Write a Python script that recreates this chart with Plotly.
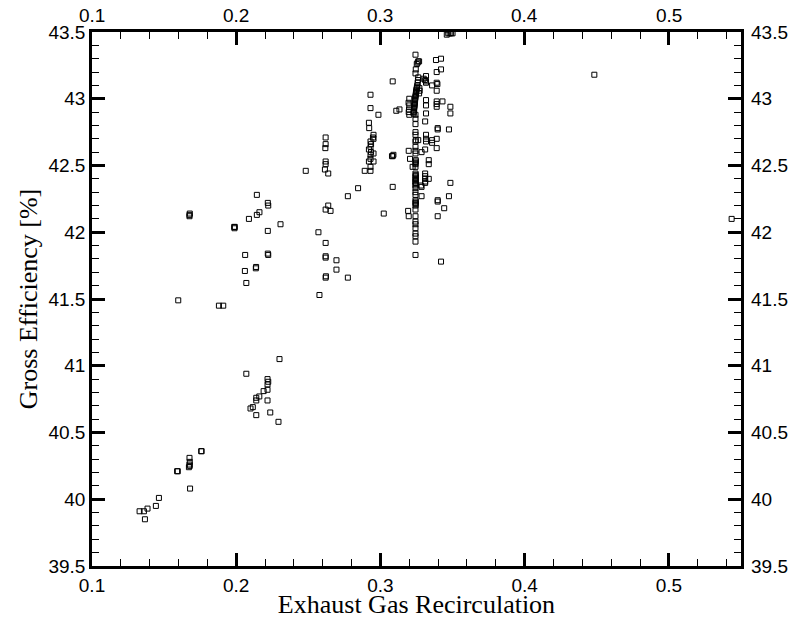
import plotly.graph_objects as go

# Exhaust gas recirculation fraction vs. gross efficiency, grouped by operating region
egr_low = [0.133, 0.136, 0.1367, 0.1385, 0.1443, 0.1464, 0.159, 0.1595, 0.168, 0.1676,
           0.1678, 0.1676, 0.1672, 0.1678, 0.1757, 0.176]
eff_low = [39.91, 39.91, 39.85, 39.93, 39.95, 40.01, 40.21, 40.21, 40.08, 40.31,
           40.28, 40.26, 40.24, 40.25, 40.36, 40.36]

egr_mid = [0.207, 0.2217, 0.2222, 0.2217, 0.2217, 0.219, 0.2139, 0.2139, 0.216, 0.2217,
           0.2115, 0.2099, 0.2139, 0.2236, 0.2293, 0.230,
           0.1598, 0.188, 0.191, 0.2577, 0.207]
eff_mid = [40.94, 40.90, 40.88, 40.86, 40.82, 40.81, 40.76, 40.74, 40.77, 40.74,
           40.69, 40.68, 40.63, 40.65, 40.58, 41.05,
           41.49, 41.45, 41.45, 41.53, 41.62]

egr_020 = [0.1676, 0.1676, 0.1678, 0.1986, 0.1988, 0.199, 0.2062, 0.206, 0.2088, 0.2136,
           0.2138, 0.2143, 0.2143, 0.2161, 0.2219, 0.2222, 0.2219, 0.2219, 0.2222, 0.2307]
eff_020 = [42.12, 42.13, 42.14, 42.04, 42.03, 42.04, 41.83, 41.71, 42.10, 41.73,
           41.74, 42.28, 42.13, 42.15, 42.22, 42.20, 42.01, 41.84, 41.83, 42.06]

egr_026 = [0.2482, 0.257, 0.262, 0.262, 0.2618, 0.262, 0.262, 0.2615, 0.2638, 0.2638,
           0.262, 0.2654, 0.262, 0.262, 0.262, 0.2695, 0.2695, 0.262, 0.2622, 0.2774,
           0.2774, 0.2845]
eff_026 = [42.46, 42.00, 42.71, 42.66, 42.63, 42.53, 42.51, 42.47, 42.44, 42.20,
           42.17, 42.16, 41.92, 41.82, 41.81, 41.79, 41.72, 41.66, 41.67, 41.66,
           42.27, 42.33]

egr_030 = [0.2931, 0.2931, 0.2986, 0.292, 0.2922, 0.2952, 0.2948, 0.2952, 0.2931, 0.2931,
           0.292, 0.2935, 0.2952, 0.2931, 0.2931, 0.292, 0.2952, 0.2931, 0.2891, 0.2931,
           0.2935, 0.3023, 0.3085, 0.308, 0.3085, 0.309, 0.3085, 0.311, 0.3132]
eff_030 = [43.03, 42.93, 42.88, 42.82, 42.78, 42.73, 42.71, 42.70, 42.68, 42.64,
           42.62, 42.66, 42.59, 42.58, 42.55, 42.53, 42.53, 42.49, 42.46, 42.46,
           42.60, 42.14, 43.13, 42.57, 42.57, 42.58, 42.34, 42.91, 42.92]

egr_032 = [0.3243, 0.3262, 0.3258, 0.3252, 0.3245, 0.3243, 0.3262, 0.326, 0.3258, 0.3256,
           0.3254, 0.3252, 0.325, 0.3249, 0.3247, 0.3246, 0.3245, 0.3243, 0.3242, 0.3241,
           0.324, 0.3239, 0.3238, 0.3237, 0.3236, 0.3235, 0.3234, 0.3233, 0.3232, 0.3231,
           0.323, 0.3243, 0.3243, 0.3243, 0.3243, 0.3243, 0.3245, 0.3243, 0.3243, 0.3243,
           0.3243, 0.3245, 0.3245, 0.3243, 0.3243, 0.3243, 0.3243, 0.3245, 0.3243, 0.3245,
           0.3243, 0.3245, 0.3243, 0.3243, 0.3245, 0.3243, 0.3243, 0.3243, 0.3243, 0.3243,
           0.3245, 0.3243, 0.3245, 0.3243, 0.3243, 0.3243, 0.3243, 0.3243, 0.3243, 0.3243,
           0.3243, 0.3243, 0.3243,
           0.320, 0.3195, 0.320, 0.3198, 0.3196, 0.320, 0.3196, 0.3205, 0.3223, 0.3192,
           0.3196,
           0.3268, 0.327, 0.3272, 0.3268, 0.3262, 0.3285, 0.3285, 0.3285, 0.3282]
eff_032 = [43.33, 43.28, 43.27, 43.26, 43.22, 43.19, 43.16, 43.14, 43.12, 43.10,
           43.09, 43.08, 43.07, 43.06, 43.05, 43.04, 43.03, 43.02, 43.01, 43.00,
           42.99, 42.98, 42.97, 42.96, 42.95, 42.94, 42.93, 42.92, 42.91, 42.90,
           42.89, 42.88, 42.85, 42.81, 42.75, 42.73, 42.69, 42.68, 42.64, 42.61,
           42.59, 42.54, 42.53, 42.52, 42.51, 42.49, 42.44, 42.43, 42.42, 42.41,
           42.40, 42.39, 42.38, 42.37, 42.36, 42.35, 42.33, 42.30, 42.28, 42.24,
           42.23, 42.22, 42.21, 42.20, 42.17, 42.12, 42.08, 42.06, 42.03, 41.99,
           41.97, 41.93, 41.83,
           43.00, 42.97, 42.95, 42.92, 42.90, 42.88, 42.61, 42.55, 42.49, 42.16,
           42.12,
           43.28, 43.08, 43.06, 43.04, 42.69, 42.60, 42.34, 42.27, 42.35]

egr_034 = [0.3316, 0.3300, 0.3316, 0.331, 0.3316, 0.3316, 0.3316, 0.3316, 0.331, 0.3316,
           0.3316, 0.3316, 0.331, 0.3335, 0.3335, 0.331, 0.331, 0.331, 0.331, 0.331,
           0.3335,
           0.3358, 0.3358, 0.3358,
           0.3385, 0.339, 0.339, 0.3395, 0.339, 0.339, 0.339, 0.339, 0.3397, 0.3397,
           0.339, 0.339, 0.3397, 0.3397, 0.3397,
           0.342, 0.342, 0.343, 0.3442, 0.342,
           0.3485, 0.3485, 0.3475, 0.3485, 0.3475,
           0.346, 0.347, 0.348, 0.349, 0.350,
           0.4483, 0.5435]
eff_034 = [43.17, 43.15, 43.13, 43.14, 43.12, 42.99, 42.95, 42.89, 42.83, 42.73,
           42.70, 42.68, 42.62, 42.54, 42.51, 42.44, 42.42, 42.40, 42.38, 42.37,
           42.40,
           43.10, 42.69, 42.67,
           43.29, 43.20, 43.12, 43.11, 43.06, 42.98, 42.96, 42.94, 42.78, 42.77,
           42.70, 42.63, 42.24, 42.23, 42.12,
           43.30, 43.22, 42.98, 42.18, 41.78,
           42.94, 42.89, 42.77, 42.37, 42.27,
           43.48, 43.49, 43.49, 43.49, 43.49,
           43.18, 42.10]

x_ticks = [0.1, 0.2, 0.3, 0.4, 0.5]
x_tick_text = ["0.1", "0.2", "0.3", "0.4", "0.5"]
y_ticks = [39.5, 40, 40.5, 41, 41.5, 42, 42.5, 43, 43.5]
y_tick_text = ["39.5", "40", "40.5", "41", "41.5", "42", "42.5", "43", "43.5"]

egr = egr_low + egr_mid + egr_020 + egr_026 + egr_030 + egr_032 + egr_034
eff = eff_low + eff_mid + eff_020 + eff_026 + eff_030 + eff_032 + eff_034

X_RANGE = [0.1, 0.55]
Y_RANGE = [39.5, 43.5]

TICK_FONT = dict(family="Liberation Sans, Arial, sans-serif", size=19, color="black")
TITLE_FONT = dict(family="Liberation Serif, Times New Roman, serif", size=26, color="black")

fig = go.Figure()
fig.add_trace(go.Scatter(
    x=egr, y=eff, mode="markers",
    marker=dict(symbol="square-open", size=5, color="black", line=dict(width=1, color="black")),
    showlegend=False,
))


def mirrored_labels():
    """Tick labels repeated along the top and right edges."""
    notes = []
    for v, t in zip(x_ticks, x_tick_text):
        notes.append(dict(x=v, xref="x", y=1, yref="paper", text=t, showarrow=False,
                          xanchor="center", yanchor="bottom", yshift=4, font=TICK_FONT))
    for v, t in zip(y_ticks, y_tick_text):
        notes.append(dict(x=1, xref="paper", y=v, yref="y", text=t, showarrow=False,
                          xanchor="left", yanchor="middle", xshift=8, font=TICK_FONT))
    return notes


fig.update_layout(
    width=796, height=619,
    margin=dict(l=92, r=55, t=32, b=53, autoexpand=False),
    plot_bgcolor="white", paper_bgcolor="white",
    annotations=mirrored_labels(),
    xaxis=dict(range=X_RANGE, tickmode="array", tickvals=x_ticks, ticktext=x_tick_text,
               ticks="inside", ticklen=13, tickwidth=3, tickcolor="#000000",
               minor=dict(ticks="inside", ticklen=7, tickwidth=1, tickcolor="#000000",
                          dtick=0.02, tick0=0.1),
               showline=True, linewidth=2.5, linecolor="black", mirror="allticks",
               showgrid=False, zeroline=False, tickfont=TICK_FONT, automargin=False,
               title=dict(text="Exhaust Gas Recirculation", font=TITLE_FONT, standoff=0)),
    yaxis=dict(range=Y_RANGE, tickmode="array", tickvals=y_ticks, ticktext=y_tick_text,
               ticks="inside", ticklen=13, tickwidth=3, tickcolor="#000000",
               minor=dict(ticks="inside", ticklen=7, tickwidth=1, tickcolor="#000000",
                          dtick=0.1, tick0=39.5),
               showline=True, linewidth=2.5, linecolor="black", mirror="allticks",
               showgrid=False, zeroline=False, tickfont=TICK_FONT, automargin=False,
               title=dict(text="Gross Efficiency [%]", font=TITLE_FONT, standoff=4)),
)

fig.write_html("out.html")
